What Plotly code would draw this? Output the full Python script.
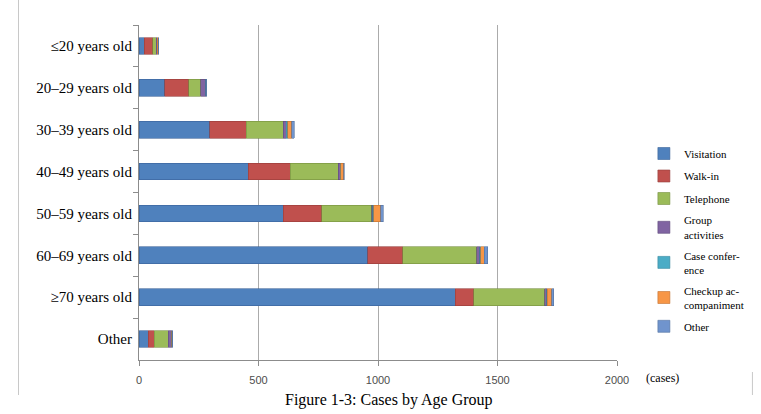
import plotly.graph_objects as go

categories = ["≤20 years old", "20–29 years old", "30–39 years old", "40–49 years old",
              "50–59 years old", "60–69 years old", "≥70 years old", "Other"]

series_names = ["Visitation", "Walk-in", "Telephone", "Group<br>activities",
                "Case confer-<br>ence", "Checkup ac-<br>companiment", "Other"]
visitation = [22, 107, 295, 457, 603, 958, 1323, 39]
walk_in = [35, 102, 153, 176, 162, 145, 77, 25]
telephone = [15, 49, 155, 200, 208, 311, 297, 58]
group_activities = [4, 21, 14, 8, 6, 12, 8, 15]
case_conference = [1, 2, 5, 3, 4, 4, 4, 1]
checkup = [3, 1, 18, 12, 28, 15, 17, 2]
other = [2, 1, 10, 3, 10, 15, 10, 1]

series_values = [visitation, walk_in, telephone, group_activities,
                 case_conference, checkup, other]
colors = ["#4F81BD", "#C0504D", "#9BBB59", "#8064A2", "#4BACC6", "#F79646", "#7094CD"]
edge_colors = ["#3A6399", "#963C3A", "#76903F", "#5E4A7A", "#35889E", "#C2712F", "#52729F"]

x_ticks = [0, 500, 1000, 1500, 2000]

fig = go.Figure()
for i, (name, vals) in enumerate(zip(series_names, series_values)):
    fig.add_trace(go.Bar(
        y=categories, x=vals, name=name, orientation="h",
        marker=dict(color=colors[i], line=dict(color=edge_colors[i], width=0.6)),
        legendgroup=f"g{i}",
    ))

serif = "Liberation Serif, Times New Roman, serif"

# pixel helpers for paper placement (plot area: x 139..619, y 25..360)
def px(x):
    return (x - 139) / 480.0

def py(y):
    return (360 - y) / 335.0

fig.update_layout(
    width=761, height=414,
    margin=dict(l=139, r=142, t=25, b=54),
    barmode="stack", bargap=0.6,
    plot_bgcolor="white", paper_bgcolor="white",
    font=dict(family=serif, size=13, color="black"),
    showlegend=True,
    legend=dict(
        x=px(646), y=py(139), xanchor="left", yanchor="top",
        traceorder="grouped", tracegroupgap=3.5,
        font=dict(family=serif, size=11, color="black"),
        bgcolor="rgba(0,0,0,0)", itemclick=False,
    ),
    xaxis=dict(
        range=[0, 2000], tickvals=x_ticks, ticktext=[str(v) for v in x_ticks],
        showgrid=True, gridcolor="#ABABAB", gridwidth=1,
        showline=True, linecolor="#8C8C8C", linewidth=1,
        ticks="outside", ticklen=5, tickcolor="#8C8C8C",
        ticklabelstandoff=5,
        tickfont=dict(family="Liberation Sans, Arial, sans-serif", size=11, color="#4D4D4D"),
        zeroline=False, fixedrange=True,
    ),
    yaxis=dict(
        categoryorder="array", categoryarray=categories, autorange="reversed",
        showline=True, linecolor="#8C8C8C", linewidth=1,
        ticks="outside", ticklen=5, tickcolor="#8C8C8C", tickson="boundaries",
        ticklabelstandoff=3,
        tickfont=dict(family=serif, size=15, color="black"),
        showgrid=False, zeroline=False, fixedrange=True,
    ),
    annotations=[
        dict(text="(cases)", xref="paper", yref="paper", x=px(646), y=py(378),
             xanchor="left", yanchor="middle", showarrow=False,
             font=dict(family=serif, size=12, color="black")),
        dict(text="Figure 1-3: Cases by Age Group", xref="paper", yref="paper",
             x=px(390), y=py(400), xanchor="center", yanchor="middle", showarrow=False,
             font=dict(family=serif, size=16, color="black")),
    ],
    shapes=[
        dict(type="line", xref="paper", yref="paper", x0=px(18), x1=px(18),
             y0=py(0), y1=py(395), line=dict(color="#C8C8C8", width=1)),
        dict(type="line", xref="paper", yref="paper", x0=px(755), x1=px(755),
             y0=py(372), y1=py(395), line=dict(color="#C8C8C8", width=1)),
    ],
)

fig.write_html("out.html",
               config={"displayModeBar": False},
               post_script="document.body.style.margin='0';document.body.style.overflow='hidden';")
